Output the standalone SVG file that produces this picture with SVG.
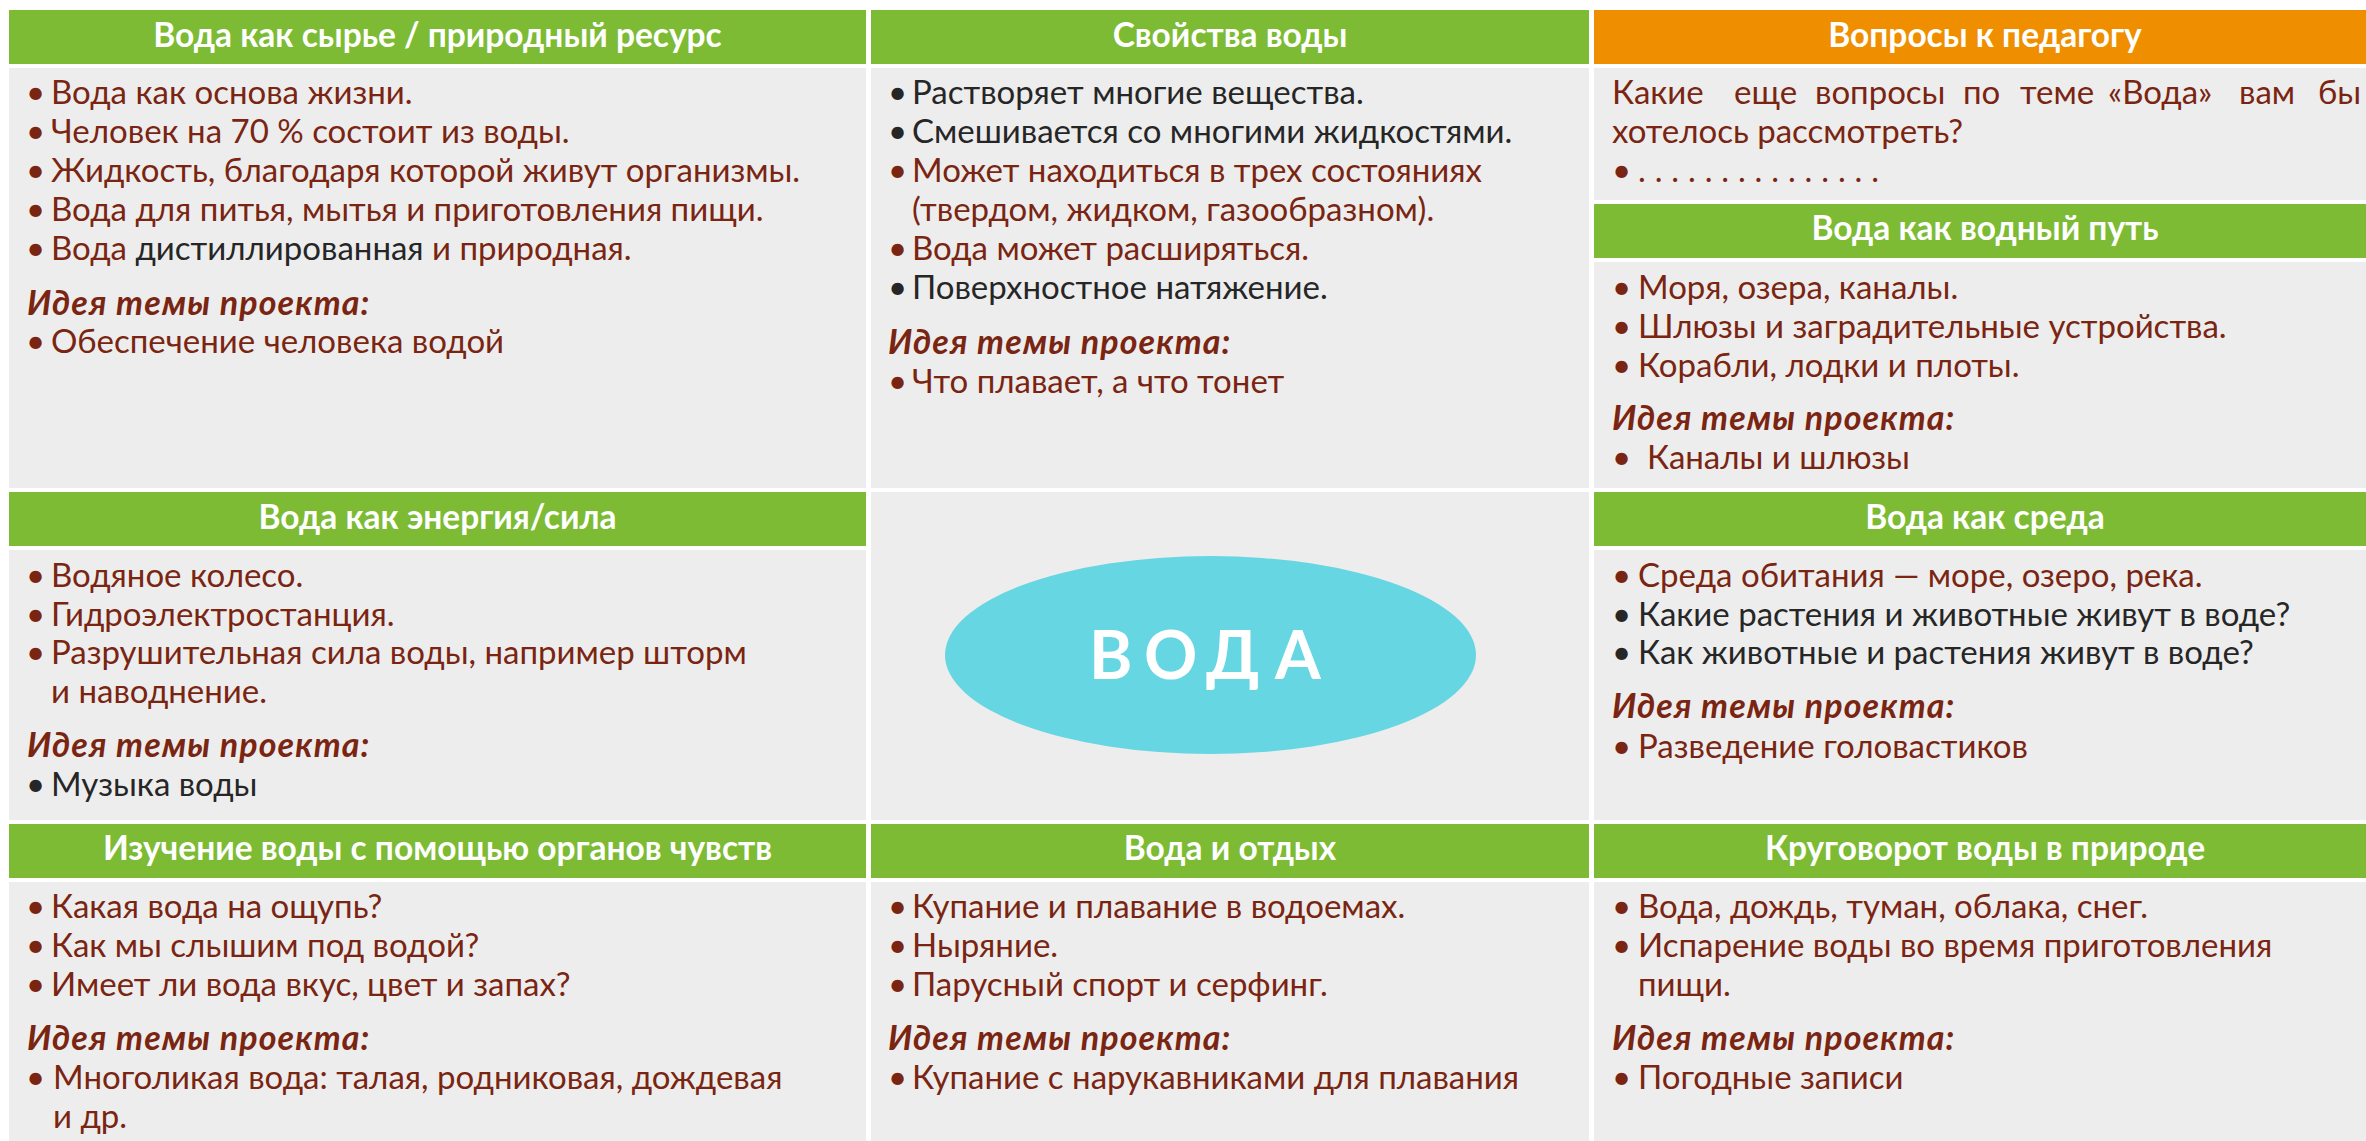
<svg xmlns="http://www.w3.org/2000/svg" width="2366" height="1141" viewBox="0 0 2366 1141">
<style>
.hg{fill:#7CBB33}
.ho{fill:#EF8F00}
.bd{fill:#EDEDED}
.ht{font-family:Lato,"Liberation Sans",sans-serif;font-weight:700;font-size:33.5px;fill:#FFFFFF;text-anchor:middle}
.t{font-family:Lato,"Liberation Sans",sans-serif;font-size:33px;fill:#7A2512}
.d{fill:#262626}
.idea{font-weight:700;font-style:italic;font-size:34px;letter-spacing:1.1px}
.big{font-family:Lato,"Liberation Sans",sans-serif;font-weight:700;font-size:66px;fill:#FFFFFF}
</style>
<rect x="0" y="0" width="2366" height="1141" fill="#FFFFFF"/>

<g id="n-raw">
<rect class="hg" x="9" y="10" width="857" height="54"/>
<rect class="bd" x="9" y="68" width="857" height="420"/>
<text class="ht" x="437.5" y="47">Вода как сырье / природный ресурс</text>
<text class="t" y="104"><tspan x="26">•</tspan><tspan x="51">Вода как основа жизни.</tspan></text>
<text class="t" y="143"><tspan x="26">•</tspan><tspan x="51">Человек на 70 % состоит из воды.</tspan></text>
<text class="t" y="182"><tspan x="26">•</tspan><tspan x="51">Жидкость, благодаря которой живут организмы.</tspan></text>
<text class="t" y="221"><tspan x="26">•</tspan><tspan x="51">Вода для питья, мытья и приготовления пищи.</tspan></text>
<text class="t" y="260"><tspan x="26">•</tspan><tspan x="51">Вода </tspan><tspan class="d">дистиллированная</tspan><tspan> и природная.</tspan></text>
<text class="t idea" x="27" y="315">Идея темы проекта:</text>
<text class="t" y="353"><tspan x="26">•</tspan><tspan x="51">Обеспечение человека водой</tspan></text>
</g>

<g id="n-props">
<rect class="hg" x="871" y="10" width="718" height="54"/>
<rect class="bd" x="871" y="68" width="718" height="420"/>
<text class="ht" x="1230" y="47">Свойства воды</text>
<text class="t d" y="104"><tspan x="888">•</tspan><tspan x="912">Растворяет многие вещества.</tspan></text>
<text class="t d" y="143"><tspan x="888">•</tspan><tspan x="912">Смешивается со многими жидкостями.</tspan></text>
<text class="t" y="182"><tspan x="888">•</tspan><tspan x="912">Может находиться в трех состояниях</tspan></text>
<text class="t" x="912" y="221">(твердом, жидком, газообразном).</text>
<text class="t" y="260"><tspan x="888">•</tspan><tspan x="912">Вода может расширяться.</tspan></text>
<text class="t d" y="299"><tspan x="888">•</tspan><tspan x="912">Поверхностное натяжение.</tspan></text>
<text class="t idea" x="888" y="354">Идея темы проекта:</text>
<text class="t" y="393"><tspan x="888">•</tspan><tspan x="912">Что плавает, а что тонет</tspan></text>
</g>

<g id="n-questions">
<rect class="ho" x="1594" y="10" width="782" height="54"/>
<rect class="bd" x="1594" y="68" width="782" height="132"/>
<text class="ht" x="1985" y="47">Вопросы к педагогу</text>
<text class="t" y="104"><tspan x="1612">Какие</tspan><tspan x="1734">еще</tspan><tspan x="1815">вопросы</tspan><tspan x="1963">по</tspan><tspan x="2020">теме</tspan><tspan x="2108">«Вода»</tspan><tspan x="2239">вам</tspan><tspan x="2318">бы</tspan></text>
<text class="t" x="1612" y="143">хотелось рассмотреть?</text>
<text class="t" y="182"><tspan x="1612">•</tspan><tspan x="1638" textLength="241" lengthAdjust="spacing">. . . . . . . . . . . . . . .</tspan></text>
</g>

<g id="n-waterway">
<rect class="hg" x="1594" y="204" width="782" height="54"/>
<rect class="bd" x="1594" y="262" width="782" height="226"/>
<text class="ht" x="1985" y="240">Вода как водный путь</text>
<text class="t" y="299"><tspan x="1612">•</tspan><tspan x="1638">Моря, озера, каналы.</tspan></text>
<text class="t" y="338"><tspan x="1612">•</tspan><tspan x="1638">Шлюзы и заградительные устройства.</tspan></text>
<text class="t" y="377"><tspan x="1612">•</tspan><tspan x="1638">Корабли, лодки и плоты.</tspan></text>
<text class="t idea" x="1612" y="430">Идея темы проекта:</text>
<text class="t" y="469"><tspan x="1612">•</tspan><tspan x="1647">Каналы и шлюзы</tspan></text>
</g>

<g id="n-energy">
<rect class="hg" x="9" y="492" width="857" height="54"/>
<rect class="bd" x="9" y="550" width="857" height="270"/>
<text class="ht" x="437.5" y="529">Вода как энергия/сила</text>
<text class="t" y="587"><tspan x="26">•</tspan><tspan x="51">Водяное колесо.</tspan></text>
<text class="t" y="626"><tspan x="26">•</tspan><tspan x="51">Гидроэлектростанция.</tspan></text>
<text class="t" y="664"><tspan x="26">•</tspan><tspan x="51">Разрушительная сила воды, например шторм</tspan></text>
<text class="t" x="51" y="703">и наводнение.</text>
<text class="t idea" x="27" y="757">Идея темы проекта:</text>
<text class="t d" y="796"><tspan x="26">•</tspan><tspan x="51">Музыка воды</tspan></text>
</g>

<g id="n-center">
<rect class="bd" x="871" y="492" width="718" height="328"/>
<ellipse cx="1210.5" cy="655" rx="265.5" ry="99" fill="#66D6E2"/>
<text class="big" y="679"><tspan x="1089">В</tspan><tspan x="1144">О</tspan><tspan x="1206">Д</tspan><tspan x="1275">А</tspan></text>
</g>

<g id="n-environment">
<rect class="hg" x="1594" y="492" width="782" height="54"/>
<rect class="bd" x="1594" y="550" width="782" height="270"/>
<text class="ht" x="1985" y="529">Вода как среда</text>
<text class="t" y="587"><tspan x="1612">•</tspan><tspan x="1638">Среда обитания — море, озеро, река.</tspan></text>
<text class="t d" y="626"><tspan x="1612">•</tspan><tspan x="1638">Какие растения и животные живут в воде?</tspan></text>
<text class="t d" y="664"><tspan x="1612">•</tspan><tspan x="1638">Как животные и растения живут в воде?</tspan></text>
<text class="t idea" x="1612" y="718">Идея темы проекта:</text>
<text class="t" y="758"><tspan x="1612">•</tspan><tspan x="1638">Разведение головастиков</tspan></text>
</g>

<g id="n-senses">
<rect class="hg" x="9" y="824" width="857" height="54"/>
<rect class="bd" x="9" y="882" width="857" height="259"/>
<text class="ht" x="437.5" y="860">Изучение воды с помощью органов чувств</text>
<text class="t" y="918"><tspan x="26">•</tspan><tspan x="51">Какая вода на ощупь?</tspan></text>
<text class="t" y="957"><tspan x="26">•</tspan><tspan x="51">Как мы слышим под водой?</tspan></text>
<text class="t" y="996"><tspan x="26">•</tspan><tspan x="51">Имеет ли вода вкус, цвет и запах?</tspan></text>
<text class="t idea" x="27" y="1050">Идея темы проекта:</text>
<text class="t" y="1089"><tspan x="26">•</tspan><tspan x="53">Многоликая вода: талая, родниковая, дождевая</tspan></text>
<text class="t" x="53" y="1128">и др.</text>
</g>

<g id="n-leisure">
<rect class="hg" x="871" y="824" width="718" height="54"/>
<rect class="bd" x="871" y="882" width="718" height="259"/>
<text class="ht" x="1230" y="860">Вода и отдых</text>
<text class="t" y="918"><tspan x="888">•</tspan><tspan x="912">Купание и плавание в водоемах.</tspan></text>
<text class="t" y="957"><tspan x="888">•</tspan><tspan x="912">Ныряние.</tspan></text>
<text class="t" y="996"><tspan x="888">•</tspan><tspan x="912">Парусный спорт и серфинг.</tspan></text>
<text class="t idea" x="888" y="1050">Идея темы проекта:</text>
<text class="t" y="1089"><tspan x="888">•</tspan><tspan x="912">Купание с нарукавниками для плавания</tspan></text>
</g>

<g id="n-cycle">
<rect class="hg" x="1594" y="824" width="782" height="54"/>
<rect class="bd" x="1594" y="882" width="782" height="259"/>
<text class="ht" x="1985" y="860">Круговорот воды в природе</text>
<text class="t" y="918"><tspan x="1612">•</tspan><tspan x="1638">Вода, дождь, туман, облака, снег.</tspan></text>
<text class="t" y="957"><tspan x="1612">•</tspan><tspan x="1638">Испарение воды во время приготовления</tspan></text>
<text class="t" x="1638" y="996">пищи.</text>
<text class="t idea" x="1612" y="1050">Идея темы проекта:</text>
<text class="t" y="1089"><tspan x="1612">•</tspan><tspan x="1638">Погодные записи</tspan></text>
</g>

<g id="connectors"/>
</svg>
